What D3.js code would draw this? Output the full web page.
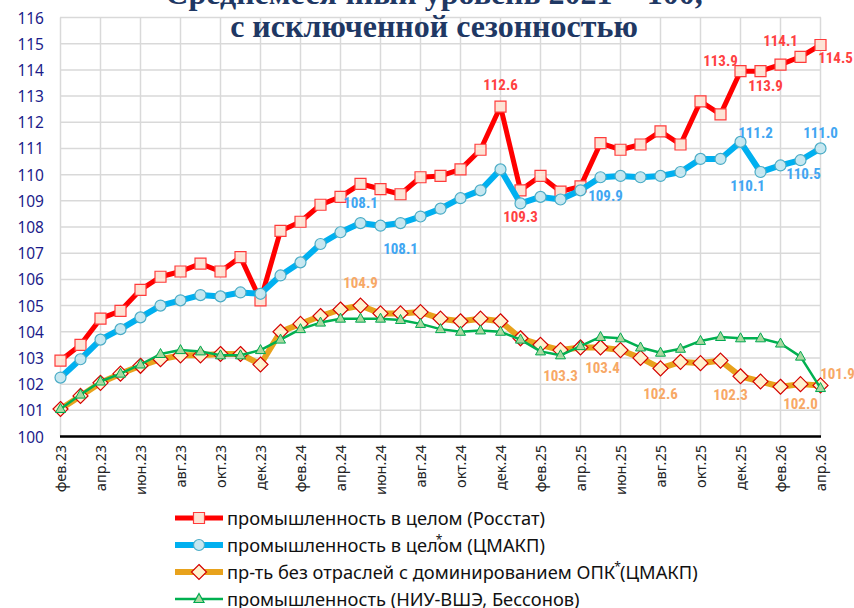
<!DOCTYPE html>
<html lang="ru">
<head>
<meta charset="utf-8">
<script src="https://cdn.jsdelivr.net/npm/d3@7"></script>
<style>
  body { margin: 0; background: #fff; }
  svg { display: block; }
</style>
</head>
<body>
<script>
var w = 854, h = 608;

// months, фев.23 .. апр.26
var months = ["фев.23","мар.23","апр.23","май.23","июн.23","июл.23","авг.23","сен.23","окт.23","ноя.23","дек.23",
              "янв.24","фев.24","мар.24","апр.24","май.24","июн.24","июл.24","авг.24","сен.24","окт.24","ноя.24","дек.24",
              "янв.25","фев.25","мар.25","апр.25","май.25","июн.25","июл.25","авг.25","сен.25","окт.25","ноя.25","дек.25",
              "янв.26","фев.26","мар.26","апр.26"];

var rosstat = [102.9,103.5,104.5,104.8,105.6,106.1,106.3,106.6,106.3,106.85,105.2,
               107.85,108.2,108.85,109.15,109.65,109.45,109.25,109.9,109.95,110.2,110.95,112.6,
               109.4,109.95,109.35,109.55,111.2,110.95,111.15,111.65,111.15,112.8,112.3,113.95,
               113.95,114.2,114.5,114.95];

var cmakp = [102.25,102.95,103.7,104.1,104.55,105.0,105.2,105.4,105.35,105.5,105.45,
             106.15,106.65,107.35,107.8,108.15,108.05,108.15,108.4,108.7,109.1,109.4,110.2,
             108.9,109.15,109.05,109.4,109.9,109.95,109.9,109.95,110.1,110.6,110.6,111.25,
             110.1,110.35,110.55,111.0];

var noOpk = [101.05,101.55,102.05,102.4,102.7,102.95,103.1,103.1,103.15,103.15,102.75,
             104.0,104.3,104.6,104.85,105.0,104.7,104.7,104.75,104.5,104.4,104.5,104.4,
             103.75,103.5,103.3,103.4,103.4,103.3,103.0,102.6,102.85,102.8,102.9,102.3,
             102.1,101.9,102.0,101.95];

var hse = [101.05,101.6,102.1,102.4,102.75,103.15,103.3,103.25,103.1,103.1,103.3,
           103.7,104.1,104.35,104.5,104.5,104.5,104.45,104.3,104.1,104.0,104.05,104.0,
           103.7,103.25,103.1,103.45,103.8,103.75,103.4,103.2,103.35,103.65,103.8,103.75,
           103.75,103.55,103.05,101.85];

var yTicks = d3.range(100, 117);

// data labels: index into series + text shown
var rosstatLabelIdx = [22, 23, 34, 35, 36, 38];
var rosstatLabelTxt = ["112.6", "109.3", "113.9", "113.9", "114.1", "114.5"];
var cmakpLabelIdx = [15, 17, 27, 34, 35, 37, 38];
var cmakpLabelTxt = ["108.1", "108.1", "109.9", "111.2", "110.1", "110.5", "111.0"];
var noOpkLabelIdx = [15, 25, 27, 30, 34, 37, 38];
var noOpkLabelTxt = ["104.9", "103.3", "103.4", "102.6", "102.3", "102.0", "101.9"];

// label offsets (dx, dy to baseline) - layout only
var rosstatOff = [[0,-17],[0,32],[-20,-5],[5,20],[0,-19],[15,18]];
var cmakpOff = [[0,-15],[0,31],[5,24],[15,-4],[-13,19],[3,19],[0,-10]];
var noOpkOff = [[0,-18],[0,31],[2,26],[0,31],[-10,24],[0,25],[17,-6]];

var xScale = d3.scalePoint().domain(months).range([60.5, 820.5]);
var yScale = d3.scaleLinear().domain([100, 116]).range([436.5, 17.5]);

var svg = d3.select("body").append("svg").attr("width", w).attr("height", h);

// grid
svg.append("g").selectAll("line").data(yTicks).enter().append("line")
    .attr("x1", 60).attr("x2", 821)
    .attr("y1", function(d){ return yScale(d); })
    .attr("y2", function(d){ return yScale(d); })
    .attr("stroke", "#d9d9d9").attr("stroke-width", 1.5);

var tickMonths = months.filter(function(d, i){ return i % 2 === 0; });
svg.append("g").selectAll("line").data(tickMonths).enter().append("line")
    .attr("x1", function(d){ return xScale(d); })
    .attr("x2", function(d){ return xScale(d); })
    .attr("y1", yScale(116)).attr("y2", yScale(100))
    .attr("stroke", "#d9d9d9").attr("stroke-width", 1.5);

// title (top line is cut off by the frame)
var title = svg.append("g").attr("font-family", "'Liberation Serif', 'Times New Roman', serif")
    .attr("font-weight", "bold").attr("font-size", "32px").attr("fill", "#1f3864")
    .attr("text-anchor", "middle");
title.append("text").attr("x", 434).attr("y", 4).text("Среднемесячный уровень 2021 = 100,");
title.append("text").attr("x", 434).attr("y", 37).text("с исключенной сезонностью");

// y axis labels
svg.append("g").selectAll("text").data(yTicks).enter().append("text")
    .attr("x", 44).attr("y", function(d){ return yScale(d) + 6; })
    .attr("text-anchor", "end")
    .attr("font-family", "'Noto Sans', sans-serif").attr("font-size", "15.5px")
    .attr("fill", "#1c1c8a")
    .text(function(d){ return d; });

// x axis line
svg.append("line").attr("x1", 60).attr("x2", 821)
    .attr("y1", yScale(100)).attr("y2", yScale(100))
    .attr("stroke", "#000").attr("stroke-width", 2.5);

// x labels
svg.append("g").selectAll("text").data(tickMonths).enter().append("text")
    .attr("transform", function(d){ return "translate(" + (xScale(d) + 5) + ",445) rotate(-90)"; })
    .attr("text-anchor", "end")
    .attr("font-family", "'Noto Sans', sans-serif").attr("font-size", "14.5px")
    .attr("fill", "#222")
    .text(function(d){ return d; });

var line = d3.line()
    .x(function(d, i){ return xScale(months[i]); })
    .y(function(d){ return yScale(d); });

function drawSeries(data, color, width, marker) {
    svg.append("path").datum(data).attr("d", line)
        .attr("fill", "none").attr("stroke", color).attr("stroke-width", width)
        .attr("stroke-linejoin", "round");
    svg.append("g").selectAll("path").data(data).enter().append("path")
        .attr("transform", function(d, i){ return "translate(" + xScale(months[i]) + "," + yScale(d) + ")"; })
        .attr("d", marker.d)
        .attr("fill", marker.fill).attr("stroke", marker.stroke).attr("stroke-width", marker.sw);
}

var sq = { d: "M-5.5,-5.5H5.5V5.5H-5.5Z", fill: "#fde3d5", stroke: "#ff3b3b", sw: 1.2 };
var circ = { d: d3.symbol().type(d3.symbolCircle).size(95)(), fill: "#c6e7f0", stroke: "#4bacc6", sw: 1.2 };
var dia = { d: "M0,-7.5L7.5,0L0,7.5L-7.5,0Z", fill: "#fff1cf", stroke: "#d40000", sw: 1.2 };
var tri = { d: "M0,-5.5L5,3.5H-5Z", fill: "#a8d8a0", stroke: "#00a84f", sw: 1 };

drawSeries(rosstat, "#ff0000", 5, sq);
drawSeries(cmakp, "#00b0f0", 6, circ);
drawSeries(noOpk, "#e8a21c", 6, dia);
drawSeries(hse, "#00b050", 2.5, tri);

function drawLabels(data, idx, txt, off, color) {
    svg.append("g").selectAll("text").data(idx).enter().append("text")
        .attr("x", function(d, k){ return xScale(months[d]) + off[k][0]; })
        .attr("y", function(d, k){ return yScale(data[d]) + off[k][1]; })
        .attr("text-anchor", "middle")
        .attr("font-family", "'Liberation Sans Narrow', 'Arial Narrow', 'Roboto Condensed', sans-serif")
        .attr("font-weight", "bold").attr("font-size", "15px")
        .attr("fill", color)
        .text(function(d, k){ return txt[k]; });
}
drawLabels(rosstat, rosstatLabelIdx, rosstatLabelTxt, rosstatOff, "#ff4141");
drawLabels(cmakp, cmakpLabelIdx, cmakpLabelTxt, cmakpOff, "#41a6f2");
drawLabels(noOpk, noOpkLabelIdx, noOpkLabelTxt, noOpkOff, "#f7a866");

// legend
var legendNames = ["промышленность в целом (Росстат)", "промышленность в целом (ЦМАКП)",
                   "пр-ть без отраслей с доминированием ОПК (ЦМАКП)", "промышленность (НИУ-ВШЭ, Бессонов)"];
var legendColors = ["#ff0000", "#00b0f0", "#e8a21c", "#00b050"];
var legendWidths = [5, 6, 6, 2.5];
var legendMarkers = [sq, circ, dia, tri];
// where the footnote star sits: after this many characters of the name
var starAfter = [null, 20, 39, null];

var lg = svg.append("g").selectAll("g").data(legendNames).enter().append("g")
    .attr("transform", function(d, i){ return "translate(0," + (518 + i * 27) + ")"; });
lg.append("line").attr("x1", 175).attr("x2", 223).attr("y1", 0).attr("y2", 0)
    .attr("stroke", function(d, i){ return legendColors[i]; })
    .attr("stroke-width", function(d, i){ return legendWidths[i]; });
lg.append("path")
    .attr("transform", "translate(199,0)")
    .attr("d", function(d, i){ return legendMarkers[i].d; })
    .attr("fill", function(d, i){ return legendMarkers[i].fill; })
    .attr("stroke", function(d, i){ return legendMarkers[i].stroke; })
    .attr("stroke-width", 1.2);
var lt = lg.append("text").attr("x", 227).attr("y", 6.5)
    .attr("font-family", "'Noto Sans', sans-serif").attr("font-size", "18.3px")
    .attr("fill", "#111")
    .text(function(d){ return d; });

// footnote stars, placed over the legend text
lt.each(function(d, i){
    if (starAfter[i] === null) return;
    var px = 227 + this.getSubStringLength(0, starAfter[i]);
    d3.select(this.parentNode).append("text")
        .attr("x", i === 1 ? px - 2 : px - 1).attr("y", -1)
        .attr("font-family", "'Noto Sans', sans-serif").attr("font-size", "12px")
        .attr("fill", "#111").text("*");
});
</script>
</body>
</html>
